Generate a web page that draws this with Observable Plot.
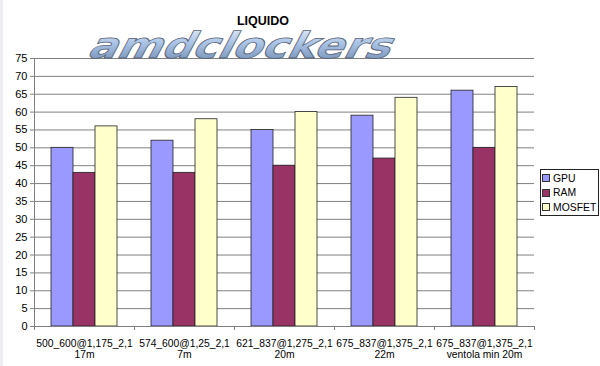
<!DOCTYPE html>
<html><head><meta charset="utf-8">
<script src="https://cdn.jsdelivr.net/npm/d3@7"></script>
<script src="https://cdn.jsdelivr.net/npm/@observablehq/plot@0.6"></script>
<style>
html,body{margin:0;padding:0;background:#fff;}
#wrap{position:relative;width:600px;height:366px;overflow:hidden;font-family:"Liberation Sans",Arial,sans-serif;}
#wrap svg{display:block;}
#legend{position:absolute;left:540px;top:169px;width:57px;height:45px;border:1px solid #222;background:#fff;font-size:10.4px;color:#000;box-sizing:content-box;}
#legend .item{position:absolute;left:0;height:14px;display:flex;align-items:center;white-space:nowrap;}
#legend .sw{width:6px;height:6px;border:1px solid #333;margin-left:1px;margin-right:3px;flex:none;}
</style>
</head><body>
<div id="wrap"></div>
<script>
const categories = [
  "500_600@1,175_2,1\n17m",
  "574_600@1,25_2,1\n7m",
  "621_837@1,275_2,1\n20m",
  "675_837@1,375_2,1\n22m",
  "675_837@1,375_2,1\nventola min 20m"
];
const series = ["GPU", "RAM", "MOSFET"];
const gpu = [50, 52, 55, 59, 66];
const ram = [43, 43, 45, 47, 50];
const mosfet = [56, 58, 60, 64, 67];
const yTicks = [0, 5, 10, 15, 20, 25, 30, 35, 40, 45, 50, 55, 60, 65, 70, 75];
const colors = ["#9999FF", "#993366", "#FFFFCC"];
const title = "LIQUIDO";
const logoText = "amdclockers";

const values = [gpu, ram, mosfet];
const rows = [];
categories.forEach((c, i) => series.forEach((s, k) => rows.push({i, k, cat: c, series: s, value: values[k][i]})));
const boundaries = d3.range(categories.length + 1);

const chart = Plot.plot({
  width: 600, height: 366,
  marginLeft: 34, marginRight: 66, marginTop: 58, marginBottom: 40,
  style: {fontFamily: "'Liberation Sans', Arial, sans-serif", fontSize: "11px", color: "#000", background: "transparent"},
  x: {domain: [0, categories.length]},
  y: {domain: [0, 75]},
  color: {domain: series, range: colors},
  marks: [
    Plot.gridY(yTicks, {stroke: "#808080", strokeOpacity: 1}),
    Plot.rect(rows, {
      x1: d => d.i + 0.17 + d.k * 0.22,
      x2: d => d.i + 0.17 + (d.k + 1) * 0.22,
      y1: 0, y2: "value",
      fill: "series", stroke: "#222", strokeWidth: 0.8
    }),
    Plot.axisY({ticks: yTicks, tickSize: 4, tickPadding: 3, stroke: "#808080", fill: "#000", fontSize: 11, anchor: "left", label: null}),
    Plot.ruleX([0], {stroke: "#808080"}),
    Plot.ruleY([0], {stroke: "#808080"}),
    Plot.axisX({ticks: boundaries, tickFormat: () => "", tickSize: 4, stroke: "#808080", label: null}),
    Plot.text(categories, {x: (d, i) => i + 0.5, y: 0, text: d => d, lineAnchor: "top", dy: 12.7, fontSize: 10.3, lineHeight: 1.07, fill: "#000"})
  ]
});

const svg = d3.select(chart);
svg.insert("rect", ":first-child").attr("x", 0).attr("y", 0).attr("width", 3).attr("height", 366).attr("fill", "#eeeef2");
const defs = svg.append("defs");
const grad = defs.append("linearGradient").attr("id", "logoGrad").attr("x1", 0).attr("y1", 0).attr("x2", 0).attr("y2", 1);
grad.append("stop").attr("offset", "0%").attr("stop-color", "#eef3fa");
grad.append("stop").attr("offset", "45%").attr("stop-color", "#a9c3e6");
grad.append("stop").attr("offset", "100%").attr("stop-color", "#6a86ad");
svg.append("g").attr("transform", "translate(86,58) skewX(-28)")
  .append("text")
  .attr("x", 0).attr("y", 0)
  .attr("text-anchor", "start")
  .attr("textLength", 302).attr("lengthAdjust", "spacingAndGlyphs")
  .attr("font-family", "'DejaVu Sans', sans-serif")
  .attr("font-weight", "bold").attr("font-size", 36)
  .attr("fill", "url(#logoGrad)").attr("stroke", "#5a6478").attr("stroke-width", 0.8)
  .text(logoText);
svg.append("text").attr("x", 263).attr("y", 25).attr("text-anchor", "middle")
  .attr("font-family", "'Liberation Sans', Arial, sans-serif").attr("font-weight", "bold").attr("font-size", 12.5)
  .attr("fill", "#000").text(title);

const wrap = document.getElementById("wrap");
wrap.appendChild(chart);
const legend = d3.select(wrap).append("div").attr("id", "legend");
series.forEach((s, k) => {
  const it = legend.append("div").attr("class", "item").style("top", (1 + k * 14.5) + "px");
  it.append("div").attr("class", "sw").style("background", colors[k]);
  it.append("span").text(s);
});
</script>
</body></html>
